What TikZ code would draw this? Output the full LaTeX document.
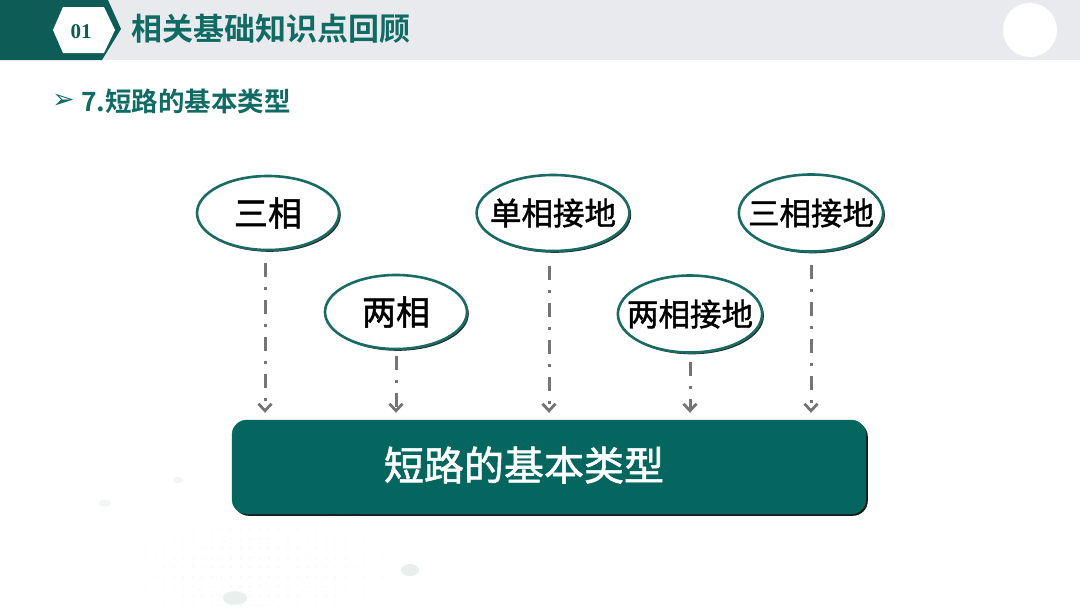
\documentclass[tikz,border=0pt]{standalone}
\usepackage{fontspec}
\setmainfont{Liberation Serif}
\newfontfamily\cjk{Noto Sans CJK SC}
\newfontfamily\cjkm[FakeBold=1.4]{Noto Sans CJK SC}
\newfontfamily\cjkb{Noto Sans CJK SC Bold}
\newfontfamily\symf{DejaVu Sans}
\usetikzlibrary{shapes.geometric,arrows.meta,shadows}
\definecolor{hdrteal}{HTML}{0D5C56}
\definecolor{titleteal}{HTML}{0F6B64}
\definecolor{boxteal}{HTML}{04665F}
\definecolor{ringteal}{HTML}{1A6B63}
\definecolor{hdrgrey}{HTML}{E9EAEE}
\definecolor{arrgrey}{HTML}{747474}
\definecolor{bgdot}{HTML}{E8EFED}
\tikzset{
  bubble/.style={ellipse, draw=ringteal, line width=2.6pt, fill=white,
    minimum width=142pt, minimum height=74pt, inner sep=0pt,
    font=\cjkm\fontsize{34}{34}\selectfont, text=black,
    drop shadow={shadow xshift=1.8pt, shadow yshift=-1.8pt, opacity=0.85, fill=black}},
  widebubble/.style={bubble, inner xsep=-9pt, font=\cjkm\fontsize{31.5}{31.5}\selectfont},
  conn/.style={draw=arrgrey, line width=3pt,
    dash pattern=on 14pt off 10pt on 3pt off 10pt,
    -{Straight Barb[length=7pt,width=13pt,line width=2.8pt]}},
  typebox/.style={rounded corners=15pt, fill=boxteal, draw=boxteal,
    minimum width=634pt, minimum height=94pt, inner sep=0pt,
    drop shadow={shadow xshift=1.8pt, shadow yshift=-1.8pt, opacity=0.9, fill=black}},
}
\begin{document}
\begin{tikzpicture}[x=1pt,y=-1pt]
\useasboundingbox (0,0) rectangle (1080,608);
\fill[white] (0,0) rectangle (1080,608);
% faint background texture
\foreach \i in {0,...,44}{
  \foreach \j in {0,...,9}{
    \pgfmathsetmacro{\xx}{60+\i*9.5}
    \pgfmathsetmacro{\yy}{520+\j*9.5}
    \pgfmathsetmacro{\op}{max(0,0.5-abs(\xx-260)/420-abs(\yy-570)/260)}
    \fill[bgdot, opacity=\op] (\xx,\yy) circle (1.1);
  }
}
\fill[bgdot] (235,598) ellipse (12 and 7);
\fill[bgdot] (410,570) ellipse (9 and 6);
\fill[bgdot, opacity=0.6] (105,503) ellipse (6 and 3.5);
\fill[bgdot, opacity=0.6] (178,480) ellipse (5 and 3);
% header
\fill[hdrgrey] (0,0) rectangle (1080,60);
\fill[hdrteal] (0,0) -- (108,0) -- (121,29) -- (102,60) -- (0,60) -- cycle;
\fill[white] (53,30) -- (63,7) -- (104,7) -- (115,30) -- (104,53) -- (63,53) -- cycle;
\node[font=\bfseries\fontsize{21}{21}\selectfont, text=hdrteal] (num) at (81,32) {01};
\node[anchor=west, font=\cjkb\fontsize{31}{31}\selectfont, text=titleteal, inner sep=0pt] (title) at (131,29) {相关基础知识点回顾};
\fill[white] (1030,30) circle (27);
% subtitle
\node[anchor=west, font=\symf\bfseries\fontsize{27}{27}\selectfont, text=titleteal, inner sep=0pt] (bullet) at (52,101) {➢};
\node[anchor=west, font=\cjkb\fontsize{26.5}{26.5}\selectfont, text=titleteal, inner sep=0pt] (sub) at (81,101) {7.短路的基本类型};
% bubbles
\node[bubble] (e1) at (268,213) {三相};
\node[bubble] (e2) at (396,312) {两相};
\node[widebubble, minimum height=76pt] (e3) at (553,213) {单相接地};
\node[widebubble, inner xsep=-12pt, minimum height=77pt] (e4) at (690,314) {两相接地};
\node[widebubble, inner xsep=-12pt, minimum height=77pt] (e5) at (811,213) {三相接地};
% box
\node[typebox] (box) at (549,467) {};
\node[font=\cjkm\fontsize{40}{40}\selectfont, text=white, inner sep=0pt] (boxtxt) at (524,465) {短路的基本类型};
% connectors
\draw[conn] ([xshift=-3pt,yshift=-12pt]e1.south) -- ([xshift=-3pt,yshift=7pt]e1.south |- box.north);
\draw[conn] ([yshift=-6pt]e2.south) -- ([yshift=7pt]e2.south |- box.north);
\draw[conn] ([xshift=-4pt,yshift=-14pt]e3.south) -- ([xshift=-4pt,yshift=7pt]e3.south |- box.north);
\draw[conn] ([yshift=-8pt]e4.south) -- ([yshift=7pt]e4.south |- box.north);
\draw[conn] ([yshift=-12pt]e5.south) -- ([yshift=7pt]e5.south |- box.north);
\end{tikzpicture}
\end{document}
